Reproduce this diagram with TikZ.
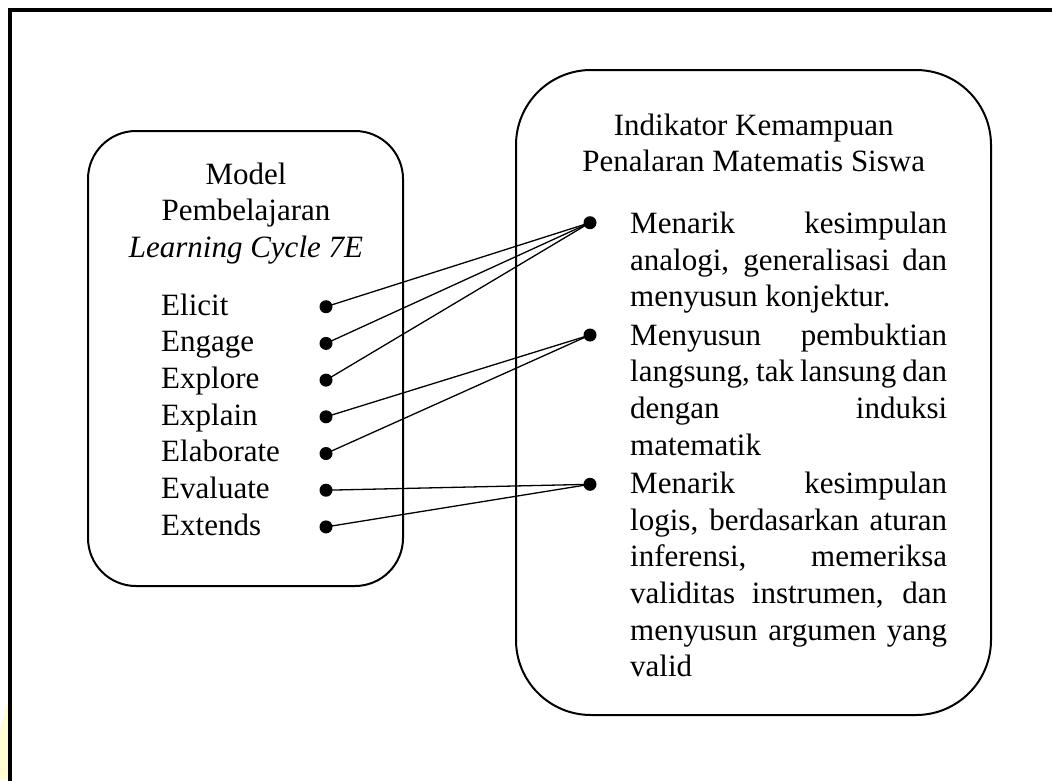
\documentclass[tikz,border=0pt]{standalone}
\usepackage{fontspec}
\setmainfont{Liberation Serif}
\begin{document}
\begin{tikzpicture}[x=1pt,y=-1pt,
  txt/.style={inner sep=0pt,anchor=base west,font=\fontsize{31}{36.7}\selectfont},
  head/.style={inner sep=0pt,anchor=base,font=\fontsize{31}{36.7}\selectfont},
  dot/.style={circle,fill=black,inner sep=0pt,minimum size=13pt},
  link/.style={line width=1.3pt},
  panel/.style={line width=2pt}]
\useasboundingbox (0,0) rectangle (1052,780);
\fill[yellow!18] (8,700) -- (8,780) -- (0,780) -- (0,730) -- cycle;
\draw[line width=4pt] (1054,10) -- (10,10) -- (10,782);
% panels
\draw[panel,rounded corners=48pt] (88,131) rectangle (403,586);
\draw[panel,rounded corners=75pt] (516,70) rectangle (991,715);
% left header
\node[head] (lh) at (246,184) {\parbox[t]{300pt}{\centering Model\\Pembelajaran\\\textit{Learning Cycle 7E}}};
% left items
\node[txt] (e1) at (161,315) {Elicit};
\node[txt] (e2) at (161,351.7) {Engage};
\node[txt] (e3) at (161,388.4) {Explore};
\node[txt] (e4) at (161,425.1) {Explain};
\node[txt] (e5) at (161,461.8) {Elaborate};
\node[txt] (e6) at (161,498.5) {Evaluate};
\node[txt] (e7) at (161,535.2) {Extends};
\node[dot] (d1) at (326,306.7) {};
\node[dot] (d2) at (326,343.4) {};
\node[dot] (d3) at (326,380.1) {};
\node[dot] (d4) at (326,416.8) {};
\node[dot] (d5) at (326,453.5) {};
\node[dot] (d6) at (326,490.2) {};
\node[dot] (d7) at (326,526.9) {};
% right header
\node[head] (rh) at (753.7,135) {\parbox[t]{460pt}{\centering Indikator Kemampuan\\Penalaran Matematis Siswa}};
% right items
\node[dot] (r1) at (590,222.7) {};
\node[dot] (r2) at (590,335) {};
\node[dot] (r3) at (590,484.3) {};
\node[txt] (i1) at (630,233.3) {\parbox[t]{317pt}{\makebox[317pt][s]{Menarik kesimpulan}\\\makebox[317pt][s]{analogi, generalisasi dan}\\menyusun konjektur.}};
\node[txt] (i2) at (630,345) {\parbox[t]{317pt}{\makebox[317pt][s]{Menyusun pembuktian}\\\makebox[317pt][s]{langsung, tak lansung dan}\\\makebox[317pt][s]{dengan induksi}\\matematik}};
\node[txt] (i3) at (630,493.3) {\parbox[t]{317pt}{\makebox[317pt][s]{Menarik kesimpulan}\\\makebox[317pt][s]{logis, berdasarkan aturan}\\\makebox[317pt][s]{inferensi, memeriksa}\\\makebox[317pt][s]{validitas instrumen, dan}\\\makebox[317pt][s]{menyusun argumen yang}\\valid}};
% connectors
\draw[link] (d1.center) -- (r1.center);
\draw[link] (d2.center) -- (r1.center);
\draw[link] (d3.center) -- (r1.center);
\draw[link] (d4.center) -- (r2.center);
\draw[link] (d5.center) -- (r2.center);
\draw[link] (d6.center) -- (r3.center);
\draw[link] (d7.center) -- (r3.center);
\end{tikzpicture}
\end{document}
